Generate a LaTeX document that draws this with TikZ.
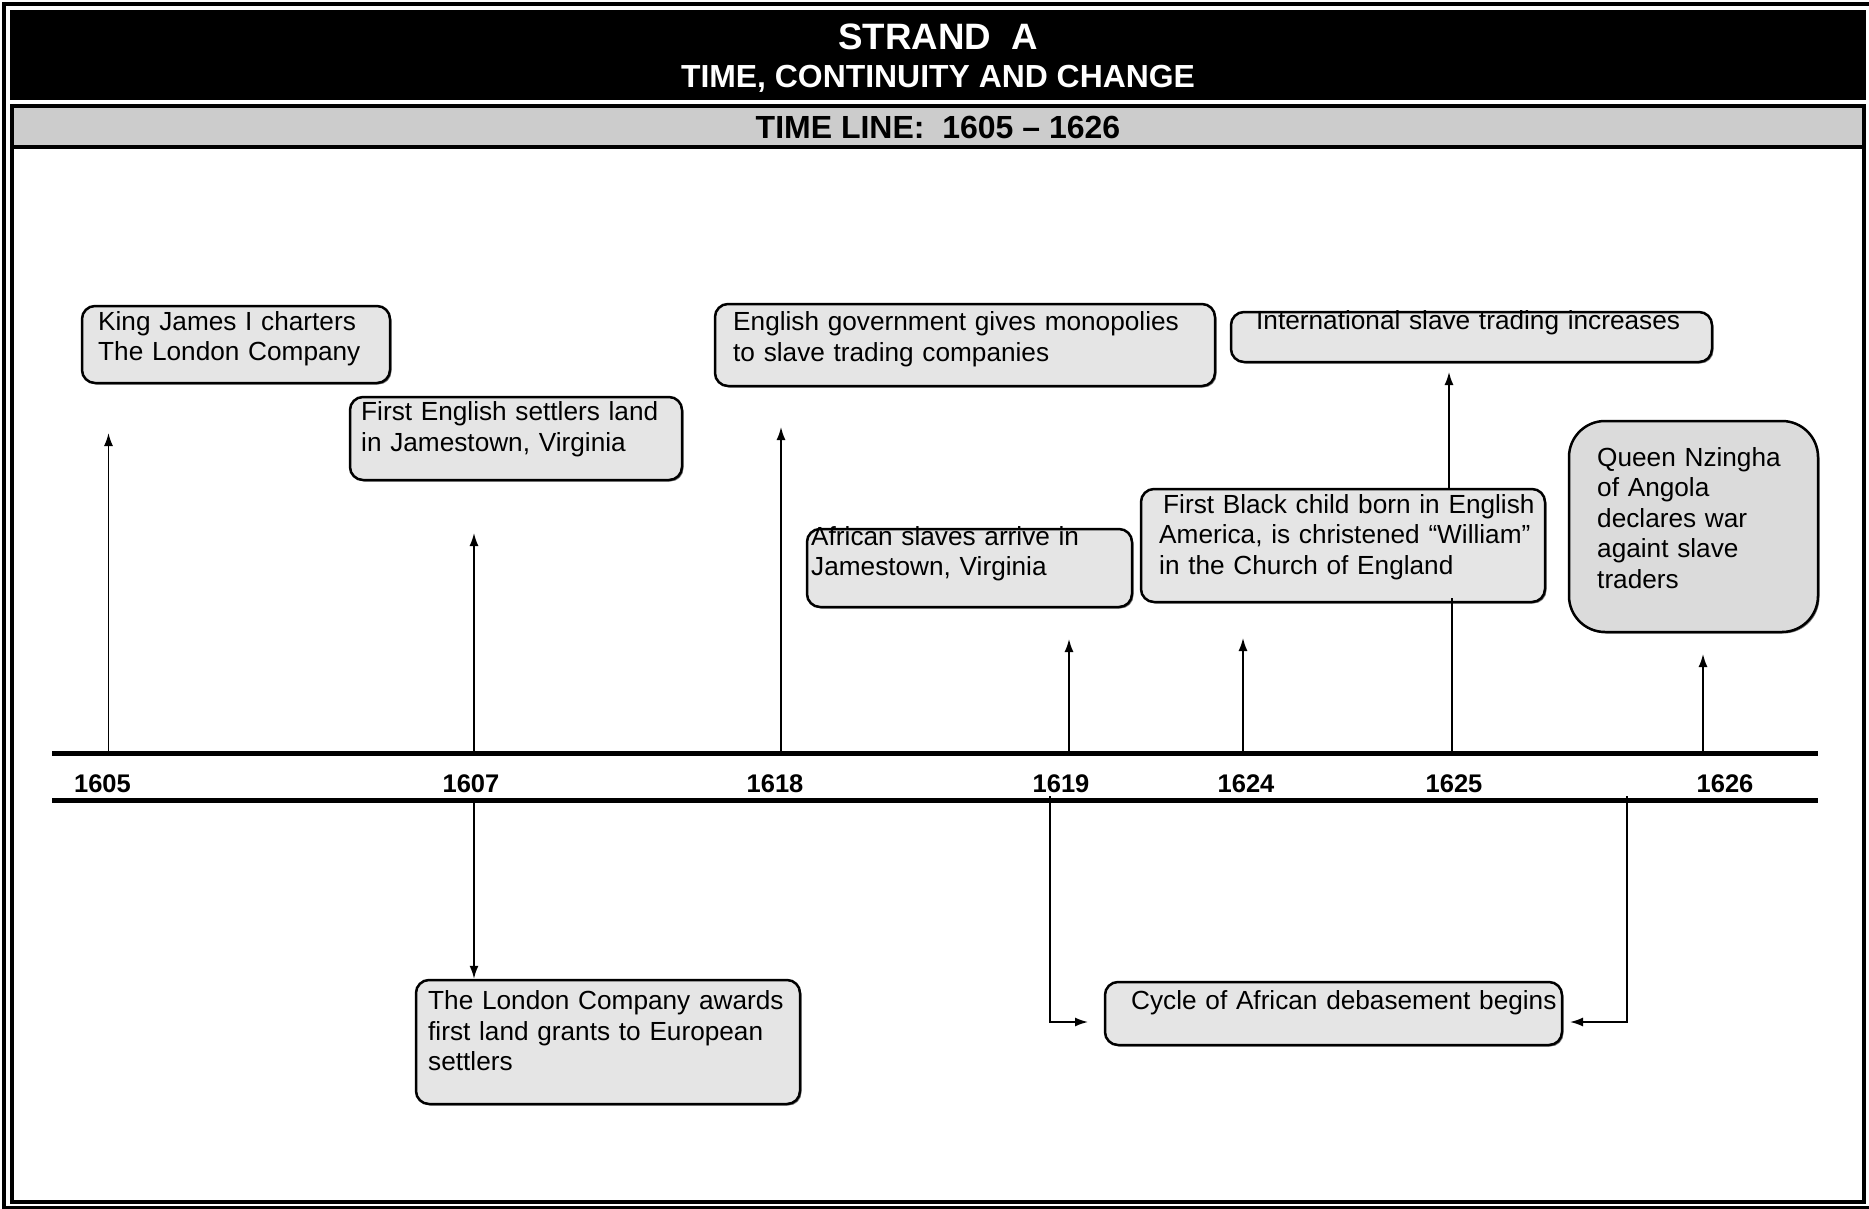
\documentclass[tikz,border=0pt]{standalone}
\usepackage{fontspec}
\setmainfont{Liberation Sans}
\usetikzlibrary{arrows.meta,shadows}
\tikzset{
	>={Latex[length=13pt,width=9pt]},
	evbox/.style={draw,line width=2.5pt,rounded corners=13pt,fill=black!10,inner sep=0pt,drop shadow={shadow xshift=1.5pt,shadow yshift=-1.5pt,fill=black!50,opacity=1}},
	evtext/.style={anchor=base west,inner sep=0pt,text width=520pt,align=left,font=\fontsize{26.2}{30.5}\selectfont},
	yearlbl/.style={anchor=base,inner sep=0pt,font=\bfseries\fontsize{25.5}{30}\selectfont},
	headlbl/.style={anchor=base,inner sep=0pt},
	bar/.style={line width=5pt},
	link/.style={line width=1.6pt}
}
\begin{document}
\begin{tikzpicture}[x=1pt,y=-1pt]
		
		\useasboundingbox (0,0) rectangle (1869,1209);
		\draw[line width=3.5pt] (4,4) rectangle (1880,1208);
		\fill[black] (10,10) rectangle (1866,100);
		\fill[black!20] (12,106) rectangle (1864,147);
		\draw[line width=4pt] (12,106) rectangle (1864,1202);
		\draw[line width=4pt] (12,147) -- (1864,147);
		\node(strand) at (938,50)[headlbl,white,font=\bfseries\fontsize{36.7}{40}\selectfont]{STRAND\ \ A};
		\node(tcc) at (938,88)[headlbl,white,font=\bfseries\fontsize{31.9}{36}\selectfont]{TIME, CONTINUITY AND CHANGE};
		\node(range) at (938,139)[headlbl,font=\bfseries\fontsize{32}{36}\selectfont]{TIME LINE:\ \ 1605 – 1626};
		
		\draw[bar] (52,753.5) -- (1818,753.5);
		\draw[bar] (52,800.5) -- (1818,800.5);
		\node(y1605) at (102.5,792.5)[yearlbl]{1605};
		\node(y1607) at (471,792.5)[yearlbl]{1607};
		\node(y1618) at (775,792.5)[yearlbl]{1618};
		\node(y1619) at (1061,792.5)[yearlbl]{1619};
		\node(y1624) at (1246,792.5)[yearlbl]{1624};
		\node(y1625) at (1454,792.5)[yearlbl]{1625};
		\node(y1626) at (1725,792.5)[yearlbl]{1626};
		
		\coordinate(u1605) at (108.5,751);
		\coordinate(u1607) at (474,751);
		\coordinate(u1618) at (781,751);
		\coordinate(u1619) at (1069,751);
		\coordinate(u1624) at (1243,751);
		\coordinate(u1625) at (1452,751);
		\coordinate(u1626) at (1703,751);
		\coordinate(h1605) at (108.5,433);
		\coordinate(h1607) at (474,533);
		\coordinate(h1618) at (781,427);
		\coordinate(h1619) at (1069,639);
		\coordinate(h1624) at (1243,638);
		\coordinate(h1625) at (1449,372);
		\coordinate(h1626) at (1703,654);
		\coordinate(d1607) at (474,803);
		\coordinate(d1619) at (1050,796);
		\coordinate(d1626) at (1627,796);
		\coordinate(c1619) at (1088,1022);
		\coordinate(c1626) at (1570,1022);
		
		\node(king) at (236,344.5)[evbox,minimum width=308pt,minimum height=77pt]{};
		\node(settle) at (516,438.5)[evbox,minimum width=332pt,minimum height=83pt]{};
		\node(mono) at (965,345)[evbox,minimum width=500pt,minimum height=82pt]{};
		\node(intl) at (1471.5,337)[evbox,minimum width=481pt,minimum height=50pt]{};
		\node(arrive) at (969.5,568)[evbox,minimum width=325pt,minimum height=78pt]{};
		\node(child) at (1343,545.5)[evbox,minimum width=404pt,minimum height=113pt]{};
		\node(queen) at (1693.5,526.5)[evbox,rounded corners=36pt,fill=black!14,minimum width=249pt,minimum height=211pt]{};
		\node(grants) at (608,1042)[evbox,minimum width=384pt,minimum height=124pt]{};
		\node(cycle) at (1333.5,1013.5)[evbox,minimum width=457pt,minimum height=63pt]{};
		
		\draw[link,->] (u1605) -- (h1605);
		\draw[link,->] (u1607) -- (h1607);
		\draw[link,->] (u1618) -- (h1618);
		\draw[link,->] (u1619) -- (h1619);
		\draw[link,->] (u1624) -- (h1624);
		\draw[link] (u1625) -- ([yshift=5pt]u1625 |- child.south);
		\draw[link,->] (h1625 |- child.north) -- (h1625);
		\draw[link,->] (u1626) -- (h1626);
		\draw[link,->] (d1607) -- (d1607 |- grants.north);
		\draw[link,->] (d1619) |- (c1619);
		\draw[link,->] (d1626) |- (c1626);
		
		\node(kingtxt) at (98,330)[evtext]{King James I charters\\The London Company};
		\node(settletxt) at (361,420.5)[evtext]{First English settlers land\\in Jamestown, Virginia};
		\node(monotxt) at (733,330.5)[evtext]{English government gives monopolies\\to slave trading companies};
		\node(intltxt) at (1256,329.5)[evtext]{International slave trading increases};
		\node(arrivetxt) at (811,545)[evtext]{African slaves arrive in\\Jamestown, Virginia};
		\node(childtxt) at (1159,513)[evtext]{\hspace*{4pt}First Black child born in English\\America, is christened “William”\\in the Church of England};
		\node(queentxt) at (1597,466)[evtext]{Queen Nzingha\\of Angola\\declares war\\againt slave\\traders};
		\node(grantstxt) at (428,1009.5)[evtext]{The London Company awards\\first land grants to European\\settlers};
		\node(cycletxt) at (1131,1009.5)[evtext]{Cycle of African debasement begins};
		
	\end{tikzpicture}
\end{document}
